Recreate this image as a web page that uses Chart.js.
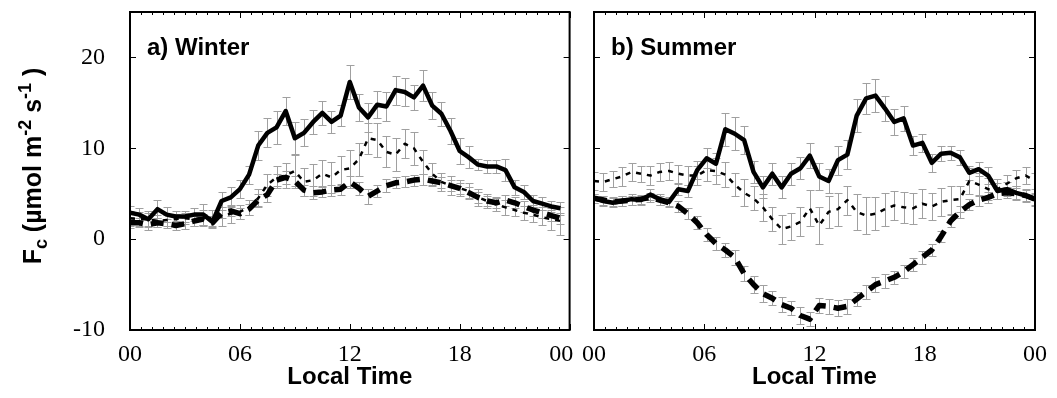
<!DOCTYPE html>
<html>
<head>
<meta charset="utf-8">
<script src="https://cdn.jsdelivr.net/npm/chart.js@4.4.1/dist/chart.umd.min.js"></script>
<style>
    html, body { margin: 0; padding: 0; background: #fff; }
    #wrap { position: relative; width: 1057px; height: 398px; overflow: hidden; }
    canvas { position: absolute; top: 0; }
    #winter { left: 0; }
    #summer { left: 570px; }
</style>
</head>
<body>
<div id="wrap">
    <canvas id="winter" width="600" height="398"></canvas>
    <canvas id="summer" width="487" height="398"></canvas>
</div>
<script>
// --- axes ---
const xTicks = [0, 6, 12, 18, 24];
const yTicks = [-10, 0, 10, 20];
const yMin = -10, yMax = 25;
const minorStep = 0.6;

// half-hourly winter points, summer points spread over the full day
const winterHours = Array.from({ length: 48 }, (_, i) => i * 0.5);
const summerHours = Array.from({ length: 48 }, (_, i) => i * 24 / 47);

// --- a) Winter ---
const winterSolid = [2.9, 2.7, 2.2, 3.3, 2.7, 2.5, 2.5, 2.7, 2.7, 1.9,
    4.2, 4.6, 5.5, 7.1, 10.3, 11.7, 12.3, 14.1, 11.1, 11.7,
    12.9, 13.9, 12.9, 13.6, 17.3, 14.5, 13.4, 14.8, 14.6, 16.4,
    16.2, 15.6, 16.9, 14.7, 13.8, 11.9, 9.7, 9.0, 8.2, 8.0,
    8.0, 7.6, 5.7, 5.2, 4.2, 3.9, 3.6, 3.4];
const winterDotted = [2.3, 2.2, 2.2, 2.0, 2.1, 2.2, 2.3, 2.2, 2.4, 2.3,
    2.5, 2.8, 3.0, 3.5, 4.5, 6.0, 6.8, 7.0, 7.5, 6.3,
    6.5, 7.2, 6.8, 7.6, 7.8, 8.8, 11.1, 10.9, 9.6, 9.3,
    10.5, 10.0, 8.5, 7.2, 6.3, 5.9, 5.6, 5.3, 4.6, 4.2,
    3.8, 3.5, 3.2, 2.9, 2.7, 2.4, 2.2, 2.0];
const winterDashed = [1.8, 1.8, 1.6, 1.8, 1.7, 1.5, 1.7, 2.0, 2.2, 1.8,
    2.9, 3.1, 2.8, 3.3, 4.3, 4.9, 6.5, 6.8, 6.4, 5.4,
    5.1, 5.2, 5.4, 5.5, 6.3, 5.6, 4.7, 5.3, 5.9, 6.2,
    6.3, 6.5, 6.6, 6.4, 6.2, 5.9, 5.6, 5.1, 4.6, 4.2,
    4.0, 4.3, 4.0, 3.6, 3.2, 2.9, 2.6, 2.3];
const winterSolidErr = [0.7, 0.7, 0.9, 1.0, 0.8, 0.6, 0.6, 0.7, 1.2, 0.7,
    1.0, 1.1, 1.0, 1.0, 1.6, 1.6, 1.8, 1.5, 1.8, 1.5,
    1.3, 1.3, 1.2, 1.2, 1.9, 1.5, 1.6, 1.5, 1.6, 1.6,
    1.5, 1.4, 1.7, 1.5, 1.3, 1.4, 1.4, 1.2, 0.6, 0.7,
    0.7, 1.2, 0.8, 0.8, 0.7, 0.7, 0.6, 0.7];
const winterDottedErr = [0.8, 0.8, 0.7, 0.7, 0.6, 0.6, 0.6, 0.7, 0.8, 0.9,
    1.0, 1.0, 0.8, 0.8, 1.0, 1.2, 1.2, 1.4, 1.9, 1.5,
    1.8, 1.5, 1.7, 1.6, 2.0, 1.8, 1.7, 1.9, 1.7, 1.8,
    1.6, 1.8, 1.3, 1.2, 1.0, 1.0, 0.9, 0.9, 0.9, 0.8,
    0.7, 0.8, 0.7, 0.8, 0.8, 0.8, 1.2, 1.5];
const winterDashedErr = [0.6, 0.5, 0.6, 0.5, 0.5, 0.5, 0.6, 0.5, 0.6, 0.5,
    0.6, 0.6, 0.6, 0.6, 0.7, 0.8, 0.7, 0.7, 0.6, 0.6,
    0.7, 0.6, 0.6, 0.6, 0.7, 0.7, 0.8, 0.7, 0.7, 0.6,
    0.6, 0.6, 0.6, 0.6, 0.6, 0.6, 0.6, 0.6, 0.6, 0.6,
    0.6, 0.6, 0.6, 0.6, 0.6, 0.6, 0.6, 0.6];

// --- b) Summer ---
const summerSolid = [4.5, 4.2, 4.0, 4.2, 4.4, 4.3, 4.9, 4.4, 4.1, 5.5,
    5.3, 7.6, 8.9, 8.3, 12.1, 11.6, 10.9, 7.4, 5.7, 7.2,
    5.7, 7.2, 7.8, 9.2, 6.9, 6.4, 8.7, 9.3, 13.6, 15.5,
    15.8, 14.4, 12.9, 13.3, 10.3, 10.6, 8.4, 9.4, 9.5, 9.0,
    7.3, 7.7, 7.0, 5.3, 5.5, 5.1, 4.8, 4.4];
const summerDotted = [6.4, 6.3, 6.6, 6.9, 7.4, 7.2, 7.0, 7.4, 7.5, 7.2,
    7.0, 7.0, 7.6, 7.5, 7.1, 6.0, 5.1, 4.5, 3.5, 2.2,
    1.1, 1.4, 1.9, 3.4, 1.5, 3.0, 3.3, 4.3, 3.0, 2.6,
    2.8, 3.3, 3.7, 3.5, 3.4, 3.9, 3.6, 4.1, 4.3, 4.4,
    6.4, 6.0, 5.5, 5.5, 6.1, 6.7, 7.0, 6.4];
const summerDashed = [4.5, 4.3, 4.1, 4.2, 4.3, 4.4, 4.6, 4.3, 4.0, 3.6,
    2.8, 1.8, 0.5, -0.5, -1.2, -2.0, -3.8, -5.0, -6.0, -6.5,
    -7.2, -7.6, -8.4, -8.8, -7.3, -7.4, -7.6, -7.4, -6.6, -5.8,
    -5.0, -4.6, -4.2, -3.6, -2.8, -2.0, -1.2, 0.3, 2.0, 3.0,
    3.8, 4.3, 4.6, 5.0, 5.1, 5.0, 4.8, 4.4];
const summerSolidErr = [0.5, 0.5, 0.5, 0.6, 0.6, 0.5, 0.6, 0.6, 0.5, 0.6,
    0.7, 1.0, 1.1, 1.2, 1.8, 1.8, 1.5, 1.2, 1.2, 1.2,
    1.2, 1.2, 1.2, 1.4, 1.5, 1.3, 1.6, 1.6, 1.8, 1.7,
    1.8, 1.4, 1.4, 1.4, 1.0, 1.0, 1.0, 0.8, 0.8, 0.8,
    0.8, 0.8, 0.9, 0.9, 0.8, 0.8, 0.7, 0.7];
const summerDottedErr = [1.0, 1.0, 0.9, 1.0, 1.0, 0.9, 1.0, 1.0, 1.0, 1.0,
    1.0, 1.0, 1.2, 1.4, 1.4, 1.3, 1.5, 1.3, 1.5, 1.3,
    1.6, 1.5, 1.6, 2.0, 2.0, 1.8, 1.8, 1.6, 2.0, 2.0,
    1.8, 1.8, 1.6, 1.7, 1.7, 1.6, 1.5, 1.5, 1.5, 1.4,
    1.4, 1.3, 1.2, 1.1, 1.0, 0.9, 0.9, 0.9];
const summerDashedErr = [0.5, 0.5, 0.5, 0.5, 0.5, 0.5, 0.5, 0.5, 0.5, 0.6,
    0.6, 0.7, 0.7, 0.7, 0.8, 0.8, 0.8, 0.9, 0.9, 0.8,
    0.8, 0.8, 0.9, 0.8, 0.8, 0.8, 0.9, 0.8, 0.8, 0.8,
    0.8, 0.8, 0.7, 0.7, 0.7, 0.7, 0.7, 0.6, 0.7, 0.7,
    0.6, 0.6, 0.6, 0.6, 0.6, 0.6, 0.6, 0.6];

const SANS = '"Liberation Sans", Arial, sans-serif';
const SERIF = '"Liberation Serif", "Times New Roman", serif';

// error bars under the lines, frame + inward ticks + panel label on top
const framePlugin = {
    id: 'frame',
    beforeDatasetsDraw(chart) {
        const { ctx, chartArea: a, scales: { x, y } } = chart;
        ctx.save();
        ctx.beginPath();
        ctx.rect(a.left, a.top, a.right - a.left, a.bottom - a.top);
        ctx.clip();
        ctx.strokeStyle = '#a0a0a0';
        ctx.lineWidth = 1;
        ctx.beginPath();
        chart.data.datasets.forEach(ds => {
            ds.data.forEach((p, i) => {
                const px = Math.round(x.getPixelForValue(p.x)) + 0.5;
                const top = Math.round(y.getPixelForValue(p.y + ds.errors[i])) + 0.5;
                const bot = Math.round(y.getPixelForValue(p.y - ds.errors[i])) + 0.5;
                ctx.moveTo(px, top); ctx.lineTo(px, bot);
                ctx.moveTo(px - 4, top); ctx.lineTo(px + 4, top);
                ctx.moveTo(px - 4, bot); ctx.lineTo(px + 4, bot);
            });
        });
        ctx.stroke();
        ctx.restore();
    },
    afterDraw(chart, args, opts) {
        const { ctx, chartArea: a, scales: { x, y } } = chart;
        ctx.save();
        ctx.strokeStyle = '#000';
        ctx.lineWidth = 1;
        ctx.beginPath();
        for (let k = 0; k * minorStep <= 24.001; k++) {
            const px = Math.round(x.getPixelForValue(k * minorStep)) + 0.5;
            const len = k % 10 === 0 ? 6 : 3;
            ctx.moveTo(px, a.bottom); ctx.lineTo(px, a.bottom - len);
            ctx.moveTo(px, a.top); ctx.lineTo(px, a.top + len);
        }
        yTicks.forEach(v => {
            const py = Math.round(y.getPixelForValue(v)) + 0.5;
            ctx.moveTo(a.left, py); ctx.lineTo(a.left + 6, py);
            ctx.moveTo(a.right, py); ctx.lineTo(a.right - 6, py);
        });
        ctx.stroke();
        ctx.lineWidth = 2;
        ctx.strokeRect(a.left, a.top, a.right - a.left, a.bottom - a.top);

        ctx.fillStyle = '#000';
        ctx.font = 'bold 24px ' + SANS;
        ctx.textBaseline = 'alphabetic';
        ctx.fillText(opts.label, a.left + 17, a.top + 43);

        if (opts.yTitle) {
            // F_c (µmol m^-2 s^-1), rotated
            const parts = [
                ['F', 25, 0], ['c', 18, 6], [' (\u00b5mol m', 25, 0], ['-2', 18, -10],
                [' s', 25, 0], ['-1', 18, -10], [' )', 25, 0]
            ];
            let total = 0;
            parts.forEach(p => { ctx.font = 'bold ' + p[1] + 'px ' + SANS; total += ctx.measureText(p[0]).width; });
            ctx.translate(41, 166);
            ctx.rotate(-Math.PI / 2);
            let cx = -total / 2;
            parts.forEach(p => {
                ctx.font = 'bold ' + p[1] + 'px ' + SANS;
                ctx.fillText(p[0], cx, p[2]);
                cx += ctx.measureText(p[0]).width;
            });
        }
        ctx.restore();
    }
};

const lineStyles = [
    { borderWidth: 4.5, borderDash: [] },
    { borderWidth: 2.5, borderDash: [5, 6] },
    { borderWidth: 5.5, borderDash: [13, 8] }
];

const buildSets = (hours, series, errs) => series.map((vals, s) => ({
    data: vals.map((v, i) => ({ x: hours[i], y: v })),
    errors: errs[s],
    borderColor: '#000',
    borderWidth: lineStyles[s].borderWidth,
    borderDash: lineStyles[s].borderDash,
    borderCapStyle: 'butt',
    borderJoinStyle: 'round',
    pointRadius: 0,
    tension: 0,
    fill: false
}));

const buildChart = (id, sets, isLeft, label) => new Chart(document.getElementById(id), {
    type: 'line',
    data: { datasets: sets },
    options: {
        responsive: false,
        animation: false,
        devicePixelRatio: 1,
        layout: { padding: { top: 12, right: isLeft ? 23 : 18, left: 0, bottom: 0 } },
        plugins: {
            legend: { display: false },
            tooltip: { enabled: false },
            frame: { label: label, yTitle: isLeft }
        },
        scales: {
            x: {
                type: 'linear', min: 0, max: 24,
                afterBuildTicks: s => { s.ticks = xTicks.map(v => ({ value: v })); },
                afterFit: s => { s.height = 68; },
                grid: { display: false, drawTicks: false },
                border: { display: false },
                ticks: {
                    autoSkip: false, maxRotation: 0, padding: 10, color: '#000',
                    font: { family: SERIF, size: 24 },
                    // left panel's closing "00" sits a little inside the frame
                    callback: v => String(v % 24).padStart(2, '0') + (isLeft && v === 24 ? '\u2007\u2009' : '')
                },
                title: {
                    display: true, text: 'Local Time', color: '#000',
                    font: { family: SANS, size: 24, weight: 'bold' },
                    padding: { top: 0, bottom: 6 }
                }
            },
            y: {
                type: 'linear', min: yMin, max: yMax,
                afterBuildTicks: s => { s.ticks = yTicks.map(v => ({ value: v })); },
                afterFit: s => { s.width = isLeft ? 130 : 24; s.paddingTop = 0; s.paddingBottom = 0; },
                grid: { display: false, drawTicks: false },
                border: { display: false },
                ticks: {
                    display: isLeft, padding: 25, color: '#000',
                    font: { family: SERIF, size: 24 }
                }
            }
        }
    },
    plugins: [framePlugin]
});

document.addEventListener('DOMContentLoaded', () => {
    buildChart('winter',
        buildSets(winterHours, [winterSolid, winterDotted, winterDashed], [winterSolidErr, winterDottedErr, winterDashedErr]),
        true, 'a) Winter');
    buildChart('summer',
        buildSets(summerHours, [summerSolid, summerDotted, summerDashed], [summerSolidErr, summerDottedErr, summerDashedErr]),
        false, 'b) Summer');
});
</script>
</body>
</html>
